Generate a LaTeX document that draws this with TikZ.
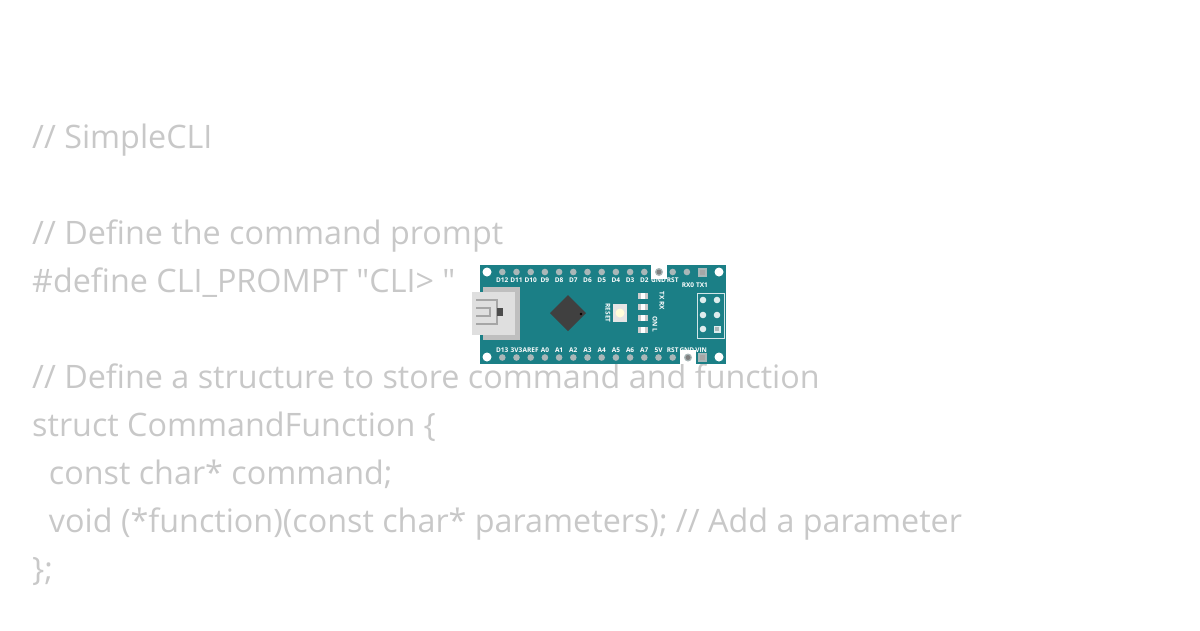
\documentclass[tikz,border=0pt]{standalone}
\usepackage{fontspec}
\setmainfont{Open Sans}[Ligatures=TeXOff]
\definecolor{code}{HTML}{C8C8C8}
\definecolor{board}{HTML}{1B7F86}
\definecolor{hole}{HTML}{A9B7B8}
\newcommand{\dq}{\char34\relax}
\begin{document}
\begin{tikzpicture}[x=1pt,y=-1pt,
  codeline/.style={anchor=base west,inner sep=0,text=code,font=\fontsize{32.3}{32}\selectfont},
  pinlbl/.style={text=white,font=\bfseries\fontsize{6.5}{6.5}\selectfont,inner sep=0},
  pin/.style={fill=hole,draw=none}]
\useasboundingbox (0,0) rectangle (1200,630);
\node[codeline] (l1) at (32,148) {// SimpleCLI};
\node[codeline] (l2) at (32,244) {// Define the command prompt};
\node[codeline] (l3) at (32,292) {\#define CLI\_PROMPT \dq CLI> \dq};
\node[codeline] (l4) at (32,388) {// Define a structure to store command and function};
\node[codeline] (l5) at (32,436) {struct CommandFunction \{};
\node[codeline] (l6) at (32,484) {\ \ const char* command;};
\node[codeline] (l7) at (32,532) {\ \ void (*function)(const char* parameters); // Add a parameter};
\node[codeline] (l8) at (32,580) {\};};
% board
\fill[board] (480,265) rectangle (726,364);
\foreach \p in {(487,272),(719,272),(487,357),(719,357)} \fill[white] \p circle (4.5);
\foreach \i in {0,...,13} {
  \fill[pin] (502.3+14.2*\i,272) circle (3.3);
  \fill[pin] (502.3+14.2*\i,357.5) circle (3.3);}
\fill[white] (651,265) rectangle (667,279);
\fill[white] (680,350) rectangle (696,364);
\fill[hole] (659,272) circle (4); \fill[gray] (659,272) circle (2.5);
\fill[hole] (688,357.5) circle (4); \fill[gray] (688,357.5) circle (2.5);
\fill[hole] (698,267.5) rectangle (707,276.5); \fill[gray!70] (700,269.5) rectangle (705,274.5);
\fill[hole] (698,353) rectangle (707,362); \fill[gray!70] (700,355) rectangle (705,360);
\foreach \t [count=\i from 0] in {D12,D11,D10,D9,D8,D7,D6,D5,D4,D3,D2,GND,RST}
  \node[pinlbl] at (502.3+14.2*\i,280) {\t};
\node[pinlbl] at (688,285) {RX0}; \node[pinlbl] at (702,285) {TX1};
\foreach \t [count=\i from 0] in {D13,3V3,AREF,A0,A1,A2,A3,A4,A5,A6,A7,5V,RST,GND,VIN}
  \node[pinlbl] at (502.3+14.2*\i,350) {\t};
% USB
\fill[gray!50] (483,287) rectangle (520,340);
\fill[gray!25] (472,292) rectangle (515,335);
\draw[gray!70,line width=1.2] (476,300) -- (497,300) -- (497,324) -- (476,324);
\draw[gray!70,line width=1.2] (476,308) -- (490,308) -- (490,316) -- (476,316);
\fill[black!70] (497,308) rectangle (503,316);
\foreach \y in {305,309,313,317,321} \fill[gray!50] (515,\y) rectangle (520,\y+2);
% chip
\fill[black!75] (568,295) -- (586,313) -- (568,331) -- (550,313) -- cycle;
\fill[black] (581,314) circle (1.3);
% reset
\fill[gray!20] (613,304) rectangle (627,322);
\fill[yellow!15] (620,313) circle (4.5);
\node[pinlbl,rotate=-90] at (608,313) {RESET};
% LEDs
\foreach \y in {296,307,318,330} {\fill[gray!40] (638,\y-3) rectangle (648,\y+3); \fill[white] (641,\y-3) rectangle (645,\y+3);}
\node[pinlbl,rotate=-90] at (662,301) {TX RX};
\node[pinlbl,rotate=-90] at (655,324) {ON L};
% ICSP
\draw[white!80!board,line width=0.8] (697,293) rectangle (724,338);
\foreach \x in {703,717} \foreach \y in {300,315} \fill[white!85!board] (\x,\y) circle (3.3);
\fill[white!85!board] (703,329) circle (3.3);
\fill[white!85!board] (713.5,325.5) rectangle (720.5,332.5); \fill[hole] (715,327) rectangle (719,331);
\end{tikzpicture}
\end{document}
